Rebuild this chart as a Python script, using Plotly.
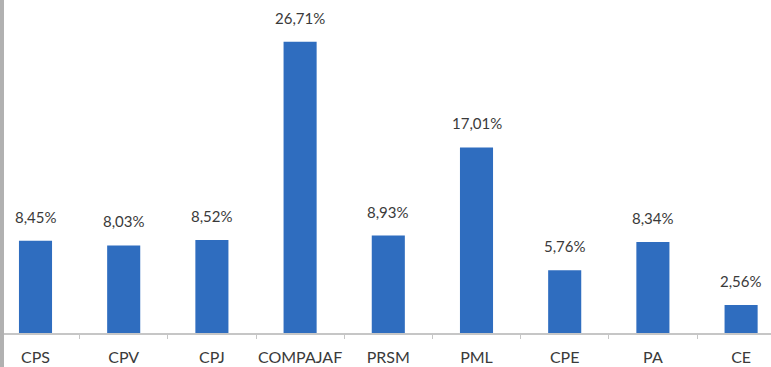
import plotly.graph_objects as go

categories = ["CPS", "CPV", "CPJ", "COMPAJAF", "PRSM", "PML", "CPE", "PA", "CE"]
values = [8.45, 8.03, 8.52, 26.71, 8.93, 17.01, 5.76, 8.34, 2.56]
value_labels = ["8,45%", "8,03%", "8,52%", "26,71%", "8,93%", "17,01%", "5,76%", "8,34%", "2,56%"]

BLUE = "#2f6dbf"
TXT = "#3a3a3a"
FONT = "Lato"

fig = go.Figure(go.Bar(
    x=categories,
    y=values,
    marker=dict(color=BLUE, line=dict(width=0)),
    width=0.375,
    hoverinfo="skip",
))

# labels above the bars
for c, v, t in zip(categories, values, value_labels):
    fig.add_annotation(
        x=c, y=v, text=t, showarrow=False,
        yanchor="bottom", yshift=13,
        font=dict(family=FONT, size=15, color=TXT),
    )

# grey strip at the left edge
fig.add_shape(type="rect", xref="paper", yref="paper",
              x0=0, x1=4 / 771, y0=-1, y1=1.2,
              fillcolor="#b1b1b1", line=dict(width=0), layer="above")

fig.update_layout(
    width=771, height=367,
    margin=dict(l=0, r=0, t=0, b=34),
    paper_bgcolor="white", plot_bgcolor="white",
    showlegend=False,
    xaxis=dict(
        type="category",
        range=[-0.4025, 8.339],
        showline=True, linecolor="#c6c6c6", linewidth=2,
        ticks="outside", ticklen=4, tickcolor="#c6c6c6", tickwidth=1,
        tickson="boundaries",
        tickangle=0, automargin=False,
        ticklabelstandoff=9,
        tickfont=dict(family=FONT, size=16, color=TXT),
        showgrid=False, zeroline=False,
    ),
    yaxis=dict(
        range=[0, 30.53], visible=False,
        showgrid=False, zeroline=False,
    ),
)

# page body has a default 8px margin, drop it
fig.write_html("out.html", config={"displayModeBar": False},
               post_script="document.body.style.margin='0';")
